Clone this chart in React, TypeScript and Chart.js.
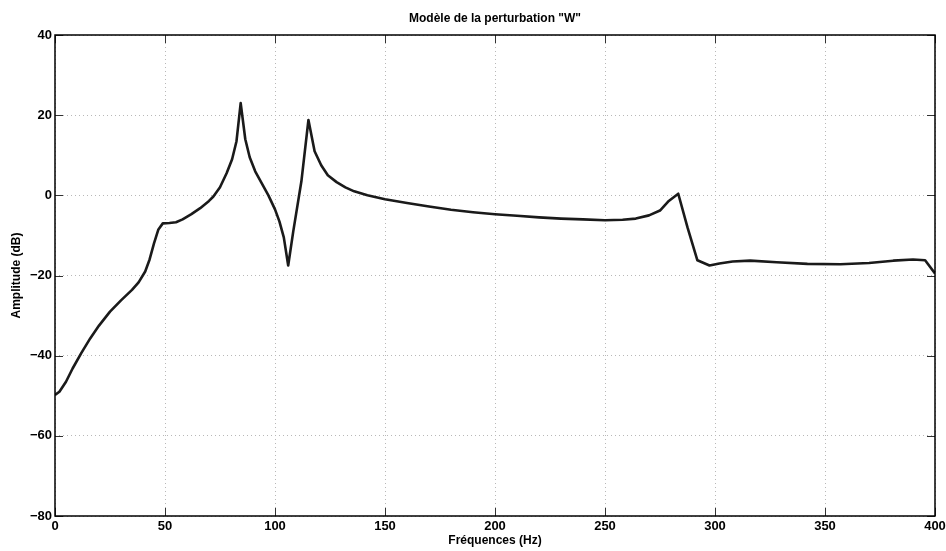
import React, { useEffect, useRef } from "react";
import { Chart, registerables } from "chart.js";

Chart.register(...registerables);

const TITLE = 'Modèle de la perturbation "W"';
const X_TITLE = "Fréquences (Hz)";
const Y_TITLE = "Amplitude (dB)";

const freqs: number[] = [
  0, 2, 5, 8, 12, 16, 20, 25, 30, 35, 38, 41, 43, 45, 47, 49, 52, 55, 58, 62,
  66, 70, 72, 75, 78, 80.5, 82.5, 84.4, 86.5, 88.5, 91, 94, 97, 100, 102, 104,
  106, 108.3, 112, 115.2, 118, 121, 124, 128, 132, 136, 142, 150, 160, 170,
  180, 190, 200, 210, 220, 230, 240, 250, 258, 264, 270, 275, 279, 283.3,
  287.5, 292, 297.5, 302, 308, 316, 328, 342, 357, 370, 381, 390, 395.5, 400,
];
const amplitude: number[] = [
  -49.8, -49, -46.5, -43.2, -39.3, -35.7, -32.5, -29, -26.2, -23.6, -21.7,
  -19, -16, -12, -8.5, -7, -6.9, -6.7, -6, -4.7, -3.2, -1.4, -0.3, 2, 5.5, 9,
  13.5, 23, 14, 9.5, 6, 3, 0, -3.5, -6.5, -10.5, -17.5, -9, 3.5, 18.8, 11,
  7.5, 5, 3.3, 2, 1, 0, -1, -1.9, -2.8, -3.6, -4.2, -4.7, -5.1, -5.5, -5.8,
  -6, -6.2, -6.1, -5.8, -5, -3.8, -1.4, 0.4, -8, -16.2, -17.5, -17, -16.5,
  -16.3, -16.7, -17.1, -17.2, -16.9, -16.3, -16, -16.2, -19.5,
];

const X_MIN = 0, X_MAX = 400, X_STEP = 50;
const Y_MIN = -80, Y_MAX = 40, Y_STEP = 20;

const FONT = "'Liberation Sans', Arial, Helvetica, sans-serif";

const frame = {
  id: "frame",
  afterDraw(chart: any) {
    const { ctx, chartArea: a, scales } = chart;
    ctx.save();
    ctx.strokeStyle = "#333";
    ctx.lineWidth = 1;
    const tl = 8;
    scales.x.ticks.forEach((t: any) => {
      const px = Math.round(scales.x.getPixelForValue(t.value)) + 0.5;
      ctx.beginPath();
      ctx.moveTo(px, a.bottom); ctx.lineTo(px, a.bottom - tl);
      ctx.moveTo(px, a.top); ctx.lineTo(px, a.top + tl);
      ctx.stroke();
    });
    scales.y.ticks.forEach((t: any) => {
      const py = Math.round(scales.y.getPixelForValue(t.value)) + 0.5;
      ctx.beginPath();
      ctx.moveTo(a.left, py); ctx.lineTo(a.left + tl, py);
      ctx.moveTo(a.right, py); ctx.lineTo(a.right - tl, py);
      ctx.stroke();
    });
    ctx.strokeStyle = "#000";
    ctx.lineWidth = 1.5;
    ctx.strokeRect(a.left, a.top, a.right - a.left, a.bottom - a.top);
    ctx.restore();
  },
};

export default function App() {
  const ref = useRef<HTMLCanvasElement>(null);
  useEffect(() => {
    if (!ref.current) return;
    const chart = new Chart(ref.current, {
      type: "line",
      data: {
        datasets: [
          {
            data: freqs.map((f, i) => ({ x: f, y: amplitude[i] })),
            borderColor: "#1a1a1a",
            borderWidth: 2.6,
            borderJoinStyle: "round",
            pointRadius: 0,
            tension: 0,
            fill: false,
          },
        ],
      },
      options: {
        animation: false,
        responsive: false,
        maintainAspectRatio: false,
        layout: { padding: { left: 0, right: 11, top: 0, bottom: 0 } },
        plugins: {
          legend: { display: false },
          tooltip: { enabled: false },
          title: {
            display: true,
            fullSize: false,
            text: TITLE,
            color: "#000",
            font: { family: FONT, size: 12, weight: "bold" },
            padding: { top: 11, bottom: 9.6 },
          },
        },
        scales: {
          x: {
            type: "linear",
            min: X_MIN,
            max: X_MAX,
            afterFit: (s: any) => { s.height = 35; s.paddingLeft = 0; s.paddingRight = 0; },
            ticks: {
              stepSize: X_STEP,
              color: "#000",
              font: { family: FONT, size: 13, weight: "bold" },
              padding: 3,
              maxRotation: 0,
            },
            grid: {
              color: "#b8b8b8",
              lineWidth: 1,
              drawTicks: false,
            },
            border: { display: false, dash: [1, 3] },
            title: {
              display: true,
              text: X_TITLE,
              color: "#000",
              font: { family: FONT, size: 12, weight: "bold" },
              padding: { top: 0, bottom: 3 },
            },
          },
          y: {
            type: "linear",
            min: Y_MIN,
            max: Y_MAX,
            afterFit: (s: any) => { s.width = 55; },
            ticks: {
              stepSize: Y_STEP,
              color: "#000",
              font: { family: FONT, size: 13, weight: "bold" },
              padding: 3,
              callback: (v: any) => (Number(v) < 0 ? "\u2212" + Math.abs(Number(v)) : String(v)),
            },
            grid: {
              color: "#b8b8b8",
              lineWidth: 1,
              drawTicks: false,
            },
            border: { display: false, dash: [1, 3] },
            title: {
              display: true,
              text: Y_TITLE,
              color: "#000",
              font: { family: FONT, size: 12, weight: "bold" },
              padding: { top: 9, bottom: 0 },
            },
          },
        },
      },
      plugins: [frame],
    });
    return () => chart.destroy();
  }, []);
  return (
    <div style={{ position: "absolute", left: 0, top: 0, width: 946, height: 551, background: "#fff" }}>
      <canvas ref={ref} width={946} height={551} style={{ display: "block" }} />
    </div>
  );
}
